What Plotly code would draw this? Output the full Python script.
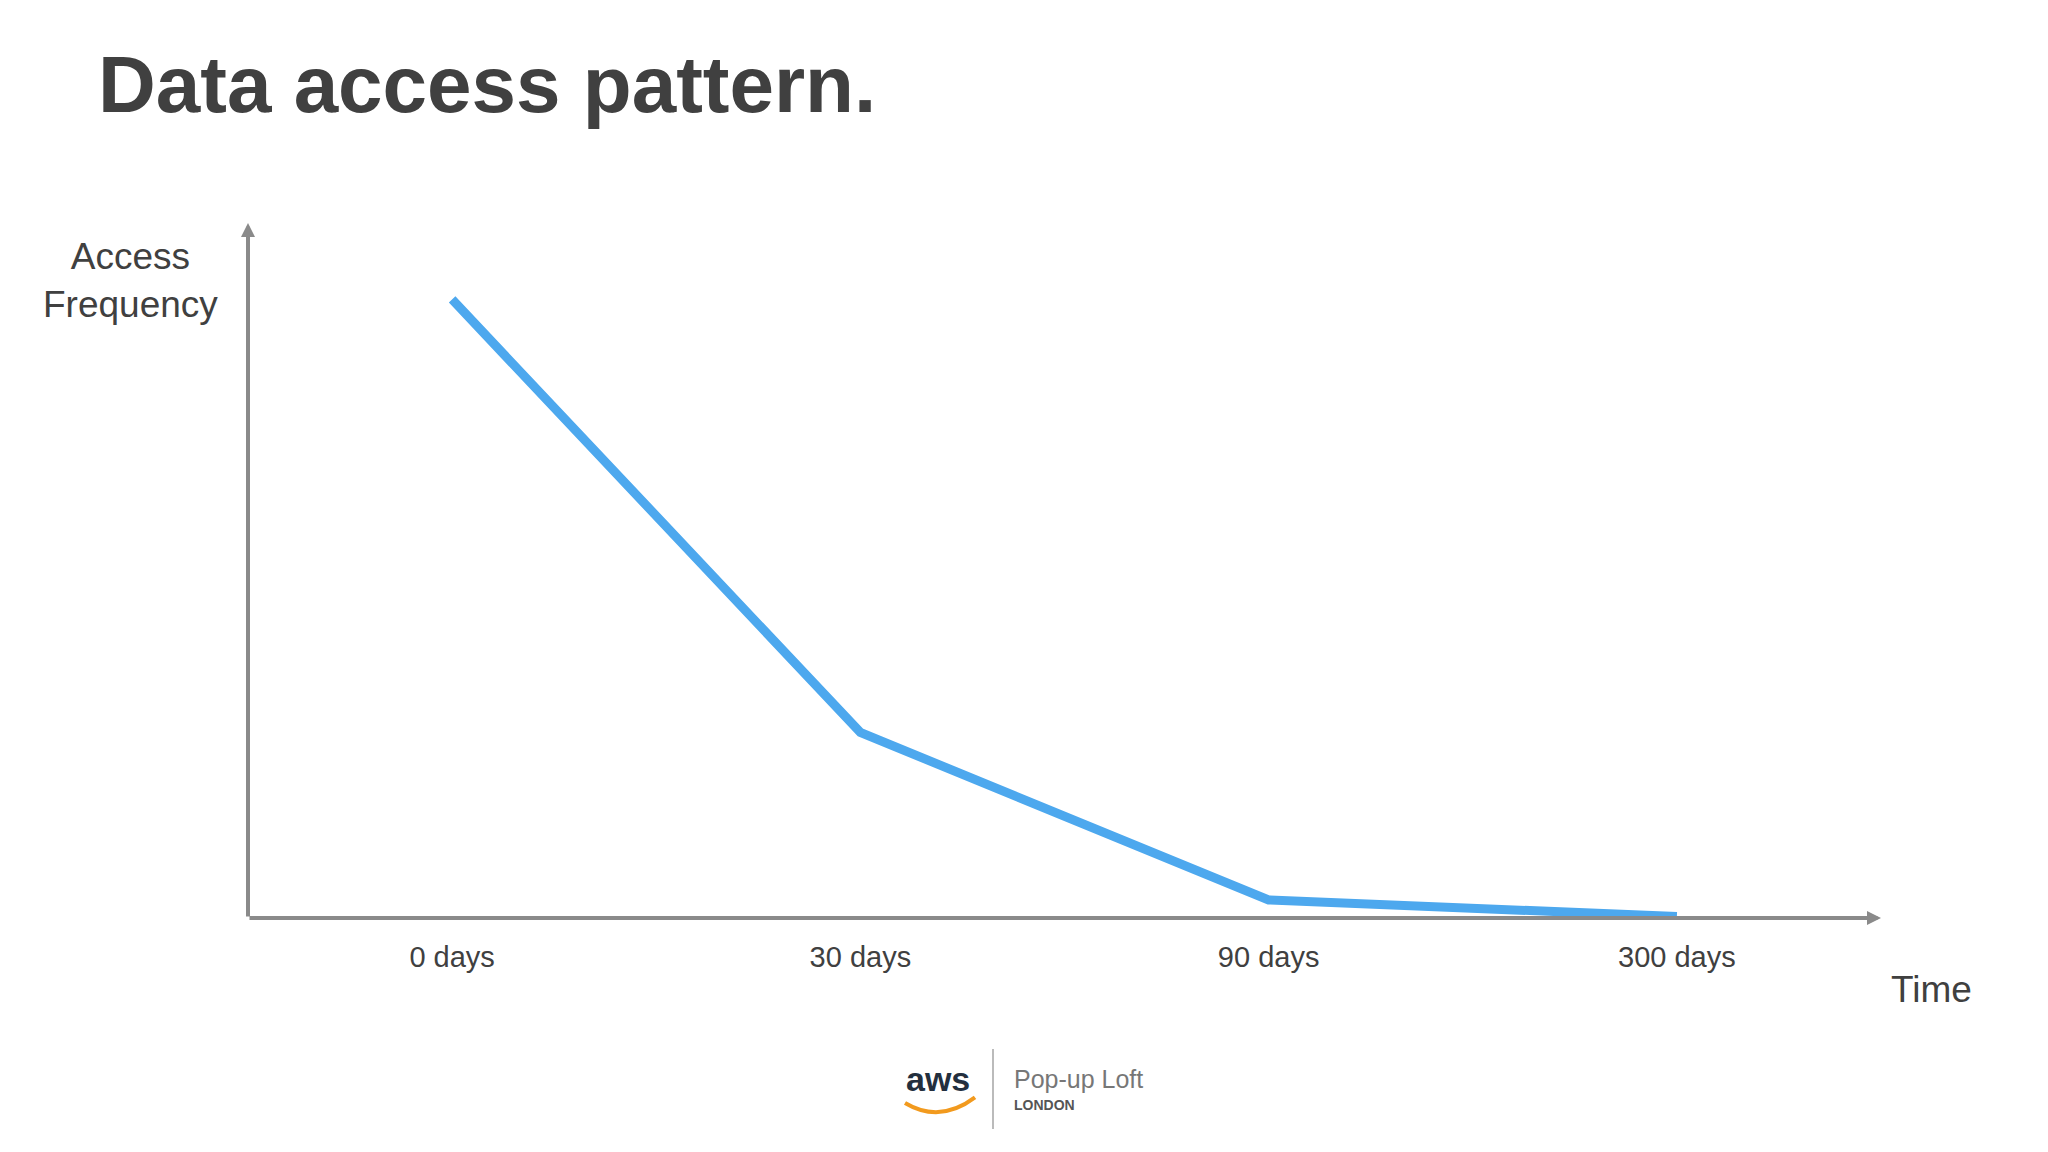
import plotly.graph_objects as go

categories = ["0 days", "30 days", "90 days", "300 days"]
frequency = [89, 26.7, 2.6, 0.2]

L, R, T, B, W, H = 240, 175, 215, 242, 2048, 1152
fig = go.Figure(go.Scatter(x=list(range(len(categories))), y=frequency, mode="lines",
                           line=dict(color="#4DA8EE", width=9)))
fig.update_layout(
    width=W, height=H, paper_bgcolor="white", plot_bgcolor="white",
    margin=dict(l=L, r=R, t=T, b=B), showlegend=False,
    font=dict(family="Liberation Sans, Arial", color="#404040"),
    xaxis=dict(range=[-0.5, 3.5], tickvals=list(range(len(categories))), ticktext=categories,
               showgrid=False, zeroline=False, showline=False, tickfont=dict(size=29, color="#404040"),
               ticks="", ticklabelstandoff=19),
    yaxis=dict(range=[0, 100], showgrid=False, zeroline=False, showline=False, showticklabels=False),
)

def px(xp, yp):
    return (xp - L) / (W - L - R), (H - B - yp) / (H - T - B)

for (x, y) in [(1.0, 0), (0, 1.0)]:
    fig.add_annotation(x=x, y=y, xref="x domain", yref="y domain", ax=0, ay=0,
                       axref="x domain", ayref="y domain", showarrow=True, arrowhead=2,
                       arrowsize=0.7, arrowwidth=4, arrowcolor="#8a8a8a", text="")

for txt, (xx, yy), size, anchor, col in [
    ("<b>Data access pattern.</b>", (88, 77), 80, "left", "#404040"),
    ("Access<br>Frequency", (122, 272), 37, "center", "#404040"),
    ("Time", (1924, 981), 37, "center", "#404040"),
    ("<b>aws</b>", (930, 1071), 34, "center", "#232F3E"),
    ("Pop-up Loft", (1004, 1071), 25, "left", "#777777"),
    ("<b>LONDON</b>", (1004, 1097), 14, "left", "#555555"),
]:
    a, b = px(xx, yy)
    fig.add_annotation(x=a, y=b, xref="paper", yref="paper", text=txt, showarrow=False,
                       xanchor=anchor, yanchor="middle", font=dict(size=size, color=col))

a1, b1 = px(985, 1041); a2, b2 = px(985, 1121)
fig.add_shape(type="line", xref="paper", yref="paper", x0=a1, x1=a2, y0=b1, y1=b2,
              line=dict(color="#bbbbbb", width=2))
a1, b1 = px(897, 1095); a2, b2 = px(967, 1095)
fig.add_shape(type="path", xref="paper", yref="paper",
              path=f"M {a1},{b1} Q {(a1+a2)/2},{b1-0.03} {a2},{b1+0.008}",
              line=dict(color="#F29A1E", width=4))
fig.write_html("out.html")
